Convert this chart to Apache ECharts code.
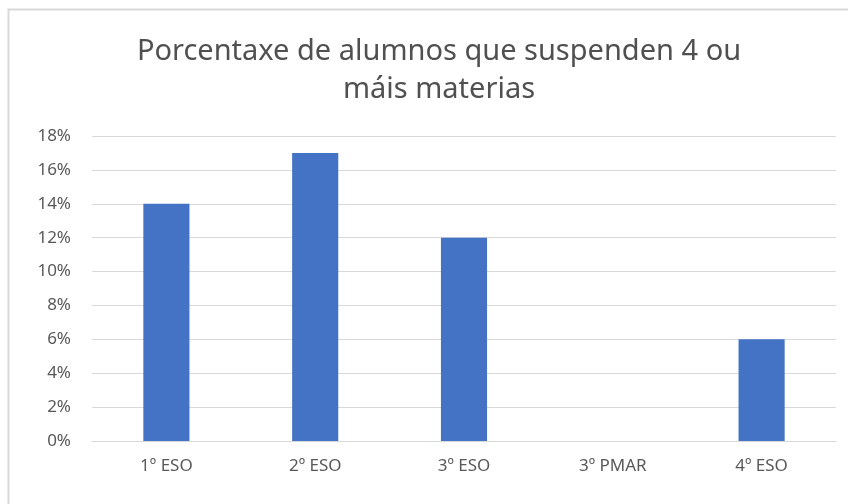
<!doctype html>
<html lang="gl">
<head>
    <meta charset="UTF-8">
    <title>Porcentaxe de alumnos</title>
    <script src="https://cdn.jsdelivr.net/npm/echarts@6.0.0/dist/echarts.min.js"></script>
    <style>
        html, body { margin: 0; padding: 0; background: #fff; }
        #chart { width: 848px; height: 504px; }
    </style>
</head>
<body>
<div id="chart"></div>
<script>
    // datos
    const cursos = ['1º ESO', '2º ESO', '3º ESO', '3º PMAR', '4º ESO']
    const porcentaxes = [14, 17, 12, 0, 6]
    const tituloTexto = 'Porcentaxe de alumnos que suspenden 4 ou\nmáis materias'

    const chart = echarts.init(document.getElementById('chart'))
    const fonte = '"Noto Sans", sans-serif'

    const option = {
        animation: false,
        // marco gris do gráfico
        graphic: [{
            type: 'rect',
            shape: { x: 8.5, y: 9.5, width: 900, height: 600 },
            style: { fill: 'none', stroke: '#d9d9d9', lineWidth: 2 }
        }],
        title: {
            text: tituloTexto,
            left: 434,
            textAlign: 'center',
            top: 28,
            textStyle: {
                fontFamily: fonte,
                fontSize: 29,
                fontWeight: 'normal',
                color: '#505050',
                lineHeight: 38
            }
        },
        grid: {
            left: 92,
            right: 12,
            top: 136,
            bottom: 63
        },
        xAxis: {
            type: 'category',
            data: cursos,
            axisLine: { lineStyle: { color: '#d9d9d9' } },
            axisTick: { show: false },
            axisLabel: {
                fontFamily: fonte,
                fontSize: 17,
                color: '#595959',
                margin: 17
            }
        },
        yAxis: {
            type: 'value',
            min: 0,
            max: 18,
            interval: 2,
            axisLine: { show: false },
            axisTick: { show: false },
            splitLine: { lineStyle: { color: '#d9d9d9' } },
            axisLabel: {
                fontFamily: fonte,
                fontSize: 17,
                color: '#595959',
                margin: 21,
                formatter: '{value}%'
            }
        },
        series: [{
            type: 'bar',
            data: porcentaxes,
            barWidth: '31%',
            itemStyle: { color: '#4472c4' }
        }]
    }
    chart.setOption(option)
</script>
</body>
</html>
